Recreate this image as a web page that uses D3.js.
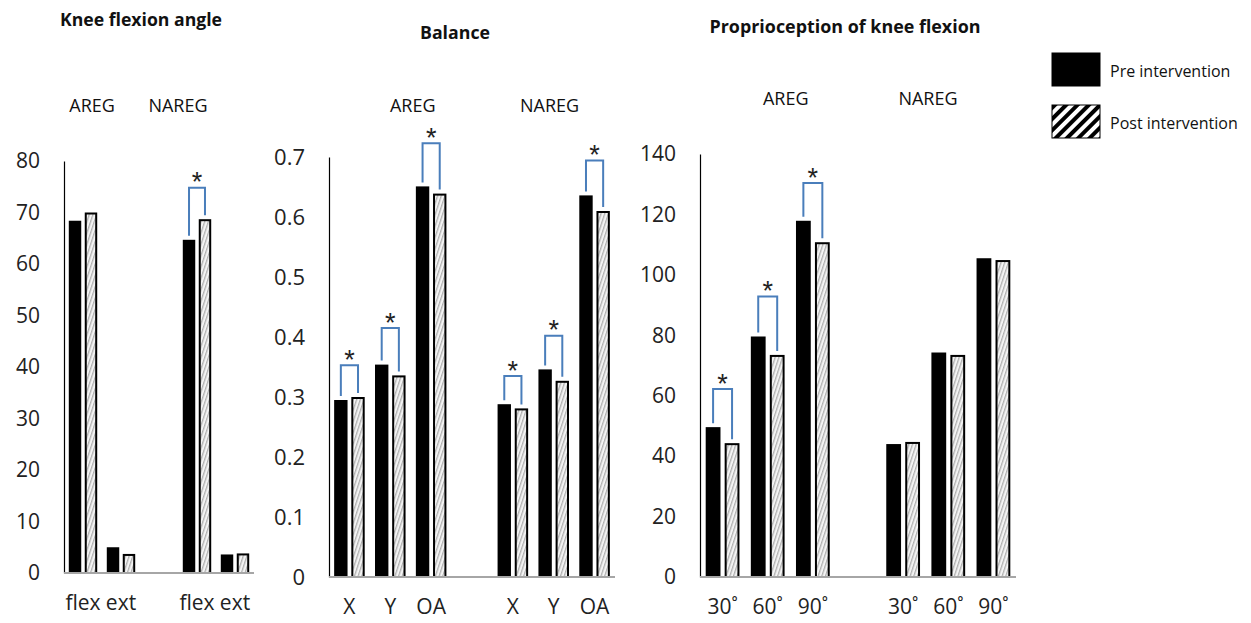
<!DOCTYPE html>
<html>
<head>
<meta charset="utf-8">
<script src="https://cdn.jsdelivr.net/npm/d3@7"></script>
<style>
  body { margin: 0; background: #fff; }
  text { font-family: "Open Sans", sans-serif; }
</style>
</head>
<body>
<svg id="chart" width="1251" height="623"></svg>
<script>
//-----------------Data----------------
const kneeCategories = ["flex", "ext", "", "flex", "ext"];
const kneePre = [68.4, 5.0, null, 64.7, 3.6];
const kneePost = [70.0, 3.7, null, 68.7, 3.8];
const kneeBracket = [null, null, null, 74.8, null]; // top of significance bracket
const kneeTicks = [0, 10, 20, 30, 40, 50, 60, 70, 80];

const balanceCategories = ["X", "Y", "OA", "", "X", "Y", "OA"];
const balancePre = [0.295, 0.354, 0.651, null, 0.288, 0.346, 0.636];
const balancePost = [0.300, 0.336, 0.639, null, 0.281, 0.327, 0.610];
const balanceBracket = [0.353, 0.415, 0.723, null, 0.335, 0.402, 0.694];
const balanceTicks = [0, 0.1, 0.2, 0.3, 0.4, 0.5, 0.6, 0.7];

const propCategories = ["30˚", "60˚", "90˚", "", "30˚", "60˚", "90˚"];
const propPre = [49.6, 79.6, 117.9, null, 44.0, 74.3, 105.5];
const propPost = [44.3, 73.5, 110.8, null, 44.7, 73.5, 104.9];
const propBracket = [62.2, 92.8, 130.4, null, null, null, null];
const propTicks = [0, 20, 40, 60, 80, 100, 120, 140];

const groupNames = ["AREG", "NAREG"];
const seriesNames = ["Pre intervention", "Post intervention"];

//-----------------Setup----------------
const svg = d3.select("#chart");
const defs = svg.append("defs");

// light hatch used on the post bars
const hatch = defs.append("pattern")
  .attr("id", "barHatch")
  .attr("patternUnits", "userSpaceOnUse")
  .attr("width", 3.5).attr("height", 4)
  .attr("patternTransform", "rotate(18)");
hatch.append("rect").attr("width", 3.5).attr("height", 4).attr("fill", "#f4f4f4");
hatch.append("rect").attr("width", 1.3).attr("height", 4).attr("fill", "#b0b0b0");

// bold hatch for the legend swatch
const legendHatch = defs.append("pattern")
  .attr("id", "legendHatch")
  .attr("patternUnits", "userSpaceOnUse")
  .attr("width", 8).attr("height", 8)
  .attr("patternTransform", "rotate(45)");
legendHatch.append("rect").attr("width", 8).attr("height", 8).attr("fill", "#fff");
legendHatch.append("rect").attr("width", 4).attr("height", 8).attr("fill", "#000");

const panels = [
  {
    title: "Knee flexion angle", titleX: 141, titleY: 26, titleW: 162,
    cats: kneeCategories, pre: kneePre, post: kneePost, bracket: kneeBracket,
    ticks: kneeTicks, fmt: d3.format("d"),
    left: 64, right: 254, top: 161, base: 573,
    tickFont: 21, groupPos: [0.74, 3.0], groupY: 112
  },
  {
    title: "Balance", titleX: 455, titleY: 39, titleW: 70,
    cats: balanceCategories, pre: balancePre, post: balancePost, bracket: balanceBracket,
    ticks: balanceTicks, fmt: (d) => (d === 0 ? "0" : d3.format(".1f")(d)),
    left: 329, right: 615, top: 157, base: 577,
    tickFont: 22, groupPos: [2.05, 5.4], groupY: 112
  },
  {
    title: "Proprioception of knee flexion", titleX: 845, titleY: 33, titleW: 271,
    cats: propCategories, pre: propPre, post: propPost, bracket: propBracket,
    ticks: propTicks, fmt: d3.format("d"),
    left: 700, right: 1016, top: 154, base: 577,
    tickFont: 21, groupPos: [1.9, 5.05], groupY: 105
  }
];

panels.forEach(drawPanel);

function drawPanel(p) {
  const idx = p.cats.map((c, i) => i);
  const maxTick = p.ticks[p.ticks.length - 1];

  const x = d3.scaleBand().domain(idx).range([p.left, p.right]).padding(0);
  const inner = d3.scaleBand().domain(["pre", "post"]).range([0, x.bandwidth()])
    .paddingInner(0.22).paddingOuter(0.3);
  const y = d3.scaleLinear().domain([0, maxTick]).range([p.base, p.top]);

  const g = svg.append("g");

  // title
  g.append("text")
    .attr("x", p.titleX - p.titleW / 2).attr("y", p.titleY)
    .attr("textLength", p.titleW)
    .attr("lengthAdjust", "spacingAndGlyphs")
    .style("font-size", "18px").style("font-weight", 700)
    .attr("fill", "#111")
    .text(p.title);

  // group labels
  g.selectAll(".grp")
    .data(groupNames)
    .enter()
    .append("text")
    .attr("x", (d, i) => p.left + p.groupPos[i] * x.bandwidth())
    .attr("y", p.groupY)
    .attr("text-anchor", "middle")
    .style("font-size", "18px")
    .attr("fill", "#111")
    .text((d) => d);

  // y axis
  const yAxis = g.append("g")
    .attr("transform", `translate(${p.left},0)`)
    .call(d3.axisLeft(y).tickValues(p.ticks).tickFormat(p.fmt).tickSize(0).tickPadding(24));
  yAxis.select(".domain").attr("stroke", "#000").attr("stroke-width", 1.2);
  yAxis.selectAll("text").style("font-size", p.tickFont + "px").attr("fill", "#222")
    .style("font-family", "'Open Sans', sans-serif");

  // bars
  const rows = idx.filter((i) => p.pre[i] != null);

  g.selectAll(".pre")
    .data(rows)
    .enter()
    .append("rect")
    .attr("x", (i) => x(i) + inner("pre"))
    .attr("y", (i) => y(p.pre[i]))
    .attr("width", inner.bandwidth())
    .attr("height", (i) => y(0) - y(p.pre[i]))
    .attr("fill", "#000");

  g.selectAll(".post")
    .data(rows)
    .enter()
    .append("rect")
    .attr("x", (i) => x(i) + inner("post") + 1)
    .attr("y", (i) => y(p.post[i]) + 1)
    .attr("width", inner.bandwidth() - 2)
    .attr("height", (i) => y(0) - y(p.post[i]) - 1)
    .attr("fill", "url(#barHatch)")
    .attr("stroke", "#000")
    .attr("stroke-width", 2);

  // baseline
  g.append("line")
    .attr("x1", p.left).attr("x2", p.right)
    .attr("y1", y(0)).attr("y2", y(0))
    .attr("stroke", "#a6a6a6").attr("stroke-width", 2);

  // x axis labels
  const xAxis = g.append("g")
    .attr("transform", `translate(0,${y(0)})`)
    .call(d3.axisBottom(x).tickFormat((i) => p.cats[i]).tickSize(0).tickPadding(22));
  xAxis.select(".domain").remove();
  xAxis.selectAll("text").style("font-size", "21px").attr("fill", "#222")
    .style("font-family", "'Open Sans', sans-serif");

  // significance brackets
  const sig = idx.filter((i) => p.bracket[i] != null);
  const bx = (i, s) => x(i) + inner(s) + inner.bandwidth() / 2;

  g.selectAll(".bracket")
    .data(sig)
    .enter()
    .append("path")
    .attr("d", (i) => {
      const top = y(p.bracket[i]);
      return `M${bx(i, "pre")},${y(p.pre[i]) - 4}V${top}H${bx(i, "post")}V${y(p.post[i]) - 4}`;
    })
    .attr("fill", "none")
    .attr("stroke", "#4a7ebb")
    .attr("stroke-width", 2);

  g.selectAll(".star")
    .data(sig)
    .enter()
    .append("text")
    .attr("x", (i) => (bx(i, "pre") + bx(i, "post")) / 2)
    .attr("y", (i) => y(p.bracket[i]) + 3.5)
    .attr("text-anchor", "middle")
    .style("font-size", "27px")
    .style("font-family", "'Liberation Sans', sans-serif")
    .attr("fill", "#222")
    .text("*");
}

//-----------Legend--------------
const legend = svg.append("g").attr("transform", "translate(1052,53)");
const legendItems = legend.selectAll("g")
  .data(seriesNames)
  .enter()
  .append("g")
  .attr("transform", (d, i) => `translate(0,${i * 52})`);

legendItems.append("rect")
  .attr("width", 48).attr("height", 33)
  .attr("fill", (d, i) => (i === 0 ? "#000" : "url(#legendHatch)"))
  .attr("stroke", "#000").attr("stroke-width", 1);

legendItems.append("text")
  .attr("x", 58).attr("y", 24)
  .style("font-size", "16px")
  .attr("fill", "#111")
  .text((d) => d);
</script>
</body>
</html>
